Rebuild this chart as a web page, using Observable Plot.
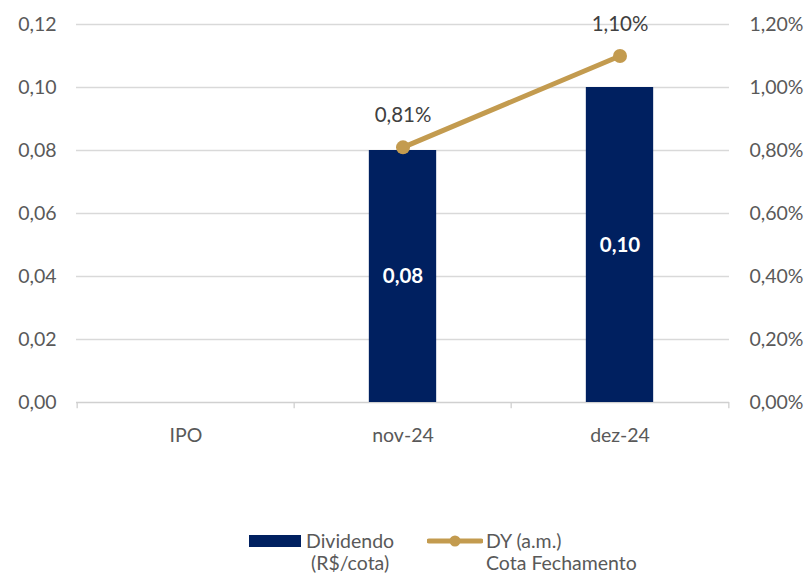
<!DOCTYPE html>
<html>
<head>
<meta charset="utf-8">
<script src="https://cdn.jsdelivr.net/npm/d3@7"></script>
<script src="https://cdn.jsdelivr.net/npm/@observablehq/plot@0.6"></script>
<style>
  body { margin: 0; background: #fff; font-family: Lato, "Open Sans", sans-serif; }
  #wrap { width: 807px; height: 574px; position: relative; }
  .item { position: absolute; top: 530px; display: flex; align-items: flex-start; gap: 5px; font-size: 19.5px; color: #595959; line-height: 22px; }
  .sw { width: 52px; height: 12px; background: #002060; margin-top: 5px; }
  .ln { width: 56px; height: 22px; margin-right: -2px; }
</style>
</head>
<body>
<div id="wrap"></div>
<script>
const categories = ["IPO", "nov-24", "dez-24"];
const dividendo = [null, 0.08, 0.10];
const dy = [null, 0.81, 1.10];
const leftTicks = [0, 0.02, 0.04, 0.06, 0.08, 0.10, 0.12];
const seriesNames = ["Dividendo\n(R$/cota)", "DY (a.m.)\nCota Fechamento"];

const navy = "#002060";
const gold = "#C39B4F";
const gray = "#595959";

const W = 807, H = 510;
const mL = 76, mR = 78, mT = 24, mB = 108;
const band = (W - mL - mR) / categories.length;
const barW = 68;
const inset = (band - barW) / 2;

const rows = categories.map((c, i) => ({cat: c, div: dividendo[i], dy: dy[i]}));
const barRows = rows.filter(d => d.div != null);
const lineRows = rows.filter(d => d.dy != null);
const fmt2 = v => v.toFixed(2).replace(".", ",");

const chart = Plot.plot({
  width: W, height: H,
  marginLeft: mL, marginRight: mR, marginTop: mT, marginBottom: mB,
  style: {fontFamily: "Lato, 'Open Sans', sans-serif", fontSize: "19.5px", color: gray, background: "#fff"},
  x: {type: "band", domain: categories, padding: 0},
  y: {domain: [0, 0.12]},
  marks: [
    Plot.ruleY(leftTicks.filter(t => t > 0), {stroke: "#d9d9d9", strokeWidth: 1.3, strokeOpacity: 1}),
    Plot.ruleY([0], {stroke: "#d0d0d0", strokeWidth: 1.3, strokeOpacity: 1}),
    Plot.ruleX(categories, {x: d => d, y1: 0, y2: -0.002, dx: -band / 2, stroke: "#d0d0d0", strokeWidth: 1.3, strokeOpacity: 1}),
    Plot.ruleX(categories.slice(-1), {x: d => d, y1: 0, y2: -0.002, dx: band / 2, stroke: "#d0d0d0", strokeWidth: 1.3, strokeOpacity: 1}),
    Plot.barY(barRows, {x: "cat", y: "div", fill: navy, insetLeft: inset, insetRight: inset}),
    Plot.text(barRows, {x: "cat", y: d => d.div / 2, text: d => fmt2(d.div), fill: "#fff", fontWeight: "bold", fontSize: 20.5}),
    Plot.line(lineRows, {x: "cat", y: d => d.dy / 10, stroke: gold, strokeWidth: 5}),
    Plot.dot(lineRows, {x: "cat", y: d => d.dy / 10, r: 7, fill: gold, stroke: "none"}),
    Plot.text(lineRows, {x: "cat", y: d => d.dy / 10, text: d => fmt2(d.dy) + "%", dy: -32, fill: "#404040", fontSize: 20.5}),
    Plot.axisY(leftTicks, {anchor: "left", tickSize: 0, tickPadding: 20, tickFormat: fmt2, fill: gray, label: null}),
    Plot.axisY(leftTicks, {anchor: "right", tickSize: 0, tickPadding: 20, tickFormat: d => fmt2(d * 10) + "%", fill: gray, label: null}),
    Plot.axisX({tickSize: 0, tickPadding: 26, fill: gray, label: null})
  ]
});

const wrap = document.getElementById("wrap");
wrap.appendChild(chart);

const [n1, n2] = seriesNames.map(s => s.split("\n"));
const it1 = document.createElement("div");
it1.className = "item";
it1.style.left = "249px";
it1.innerHTML = `<div class="sw"></div><div style="text-align:center">${n1[0]}<br>${n1[1]}</div>`;
const it2 = document.createElement("div");
it2.className = "item";
it2.style.left = "427px";
it2.innerHTML = `<svg class="ln" viewBox="0 0 56 22"><line x1="2" y1="11" x2="54" y2="11" stroke="${gold}" stroke-width="5" stroke-linecap="round"/><circle cx="28" cy="11" r="5.5" fill="${gold}"/></svg><div>${n2[0]}<br>${n2[1]}</div>`;
wrap.appendChild(it1);
wrap.appendChild(it2);
</script>
</body>
</html>
